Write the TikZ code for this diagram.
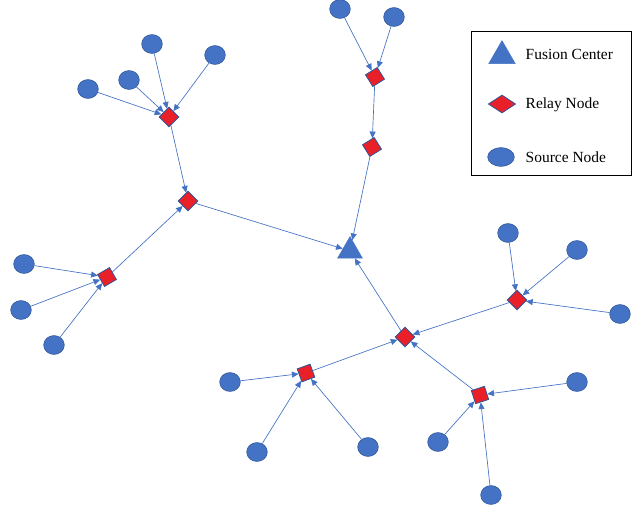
\documentclass[tikz,border=0pt]{standalone}
\usepackage{fontspec}
\setmainfont{Liberation Serif}
\usetikzlibrary{shapes.geometric,arrows.meta}
\definecolor{srcblue}{RGB}{68, 114, 196}
\definecolor{srcedge}{RGB}{47, 85, 151}
\definecolor{relayred}{RGB}{234, 32, 40}
\tikzset{
	source/.style={ellipse, draw=srcedge, fill=srcblue, minimum width=15.5pt, minimum height=14.2pt, inner sep=0pt},
	relay/.style={rectangle, draw=srcedge, line width=0.6pt, fill=relayred, minimum size=10.3pt, inner sep=0pt, rotate=#1},
	relay/.default=45,
	fusion/.style={regular polygon, regular polygon sides=3, fill=srcblue, draw=srcblue, minimum size=21.5pt, inner sep=0pt},
	link/.style={draw=srcblue, line width=0.5pt, -{Triangle[length=5pt, width=4.5pt]}},
	legtext/.style={anchor=west, font=\fontsize{11.6}{13}\selectfont}
}
\begin{document}
\begin{tikzpicture}[x=0.75pt, y=-0.75pt]
		\useasboundingbox (0,0) rectangle (644,508);
		
		% Fusion Center
		\node[fusion] (fc) at (350,251) {};
		
		% --- Relais ---
		\node[relay] (r1) at (169,117) {};
		\node[relay] (r2) at (188,201) {};
		\node[relay=30] (r3) at (107,277) {};
		\node[relay=32] (r4) at (375,77) {};
		\node[relay=32] (r5) at (372,147) {};
		\node[relay] (r6) at (405,337) {};
		\node[relay] (r7) at (517,300) {};
		\node[relay=20] (r8) at (306,373) {};
		\node[relay=18] (r9) at (480,395) {};
		
		% --- Quellen ---
		\node[source] (s1) at (152,44) {};
		\node[source] (s2) at (215,55) {};
		\node[source] (s3) at (129,80) {};
		\node[source] (s4) at (88,89) {};
		\node[source] (s5) at (340,9) {};
		\node[source] (s6) at (394,17) {};
		\node[source] (s7) at (24,264) {};
		\node[source] (s8) at (21,310) {};
		\node[source] (s9) at (54,345) {};
		\node[source] (s10) at (508,233) {};
		\node[source] (s11) at (577,250) {};
		\node[source] (s12) at (620,314) {};
		\node[source] (s13) at (230,382) {};
		\node[source] (s14) at (257,452) {};
		\node[source] (s15) at (368,447) {};
		\node[source] (s16) at (577,382) {};
		\node[source] (s17) at (438,442) {};
		\node[source] (s18) at (491,495) {};
		
		% --- Verbindungen ---
		\foreach \s in {s1,s2,s3,s4} \draw[link] (\s) -- (r1);
		\foreach \s in {s5,s6} \draw[link] (\s) -- (r4);
		\foreach \s in {s7,s8,s9} \draw[link] (\s) -- (r3);
		\foreach \s in {s10,s11,s12} \draw[link] (\s) -- (r7);
		\foreach \s in {s13,s14,s15} \draw[link] (\s) -- (r8);
		\foreach \s in {s16,s17,s18} \draw[link] (\s) -- (r9);
		\draw[link] (r1) -- (r2);
		\draw[link] (r3) -- (r2);
		\draw[link] (r4) -- (r5);
		\foreach \r in {r7,r8,r9} \draw[link] (\r) -- (r6);
		\foreach \r in {r2,r5,r6} \draw[link] (\r) -- (fc);
		
		% Legende
		\draw[black, line width=0.6pt] (471,31) rectangle (631,175);
		\node[fusion, minimum size=23pt] (lfc) at (502,56) {};
		\node[diamond, draw=srcedge, line width=0.6pt, fill=relayred, minimum width=20.5pt, minimum height=13.5pt, inner sep=0pt] (lrelay) at (502,104) {};
		\node[source, minimum width=20pt, minimum height=14pt] (lsrc) at (501,157) {};
		\node[legtext] at (521,54) {Fusion Center};
		\node[legtext] at (521,105) {Relay Node};
		\node[legtext] at (521,157) {Source Node};
		
	\end{tikzpicture}
\end{document}
